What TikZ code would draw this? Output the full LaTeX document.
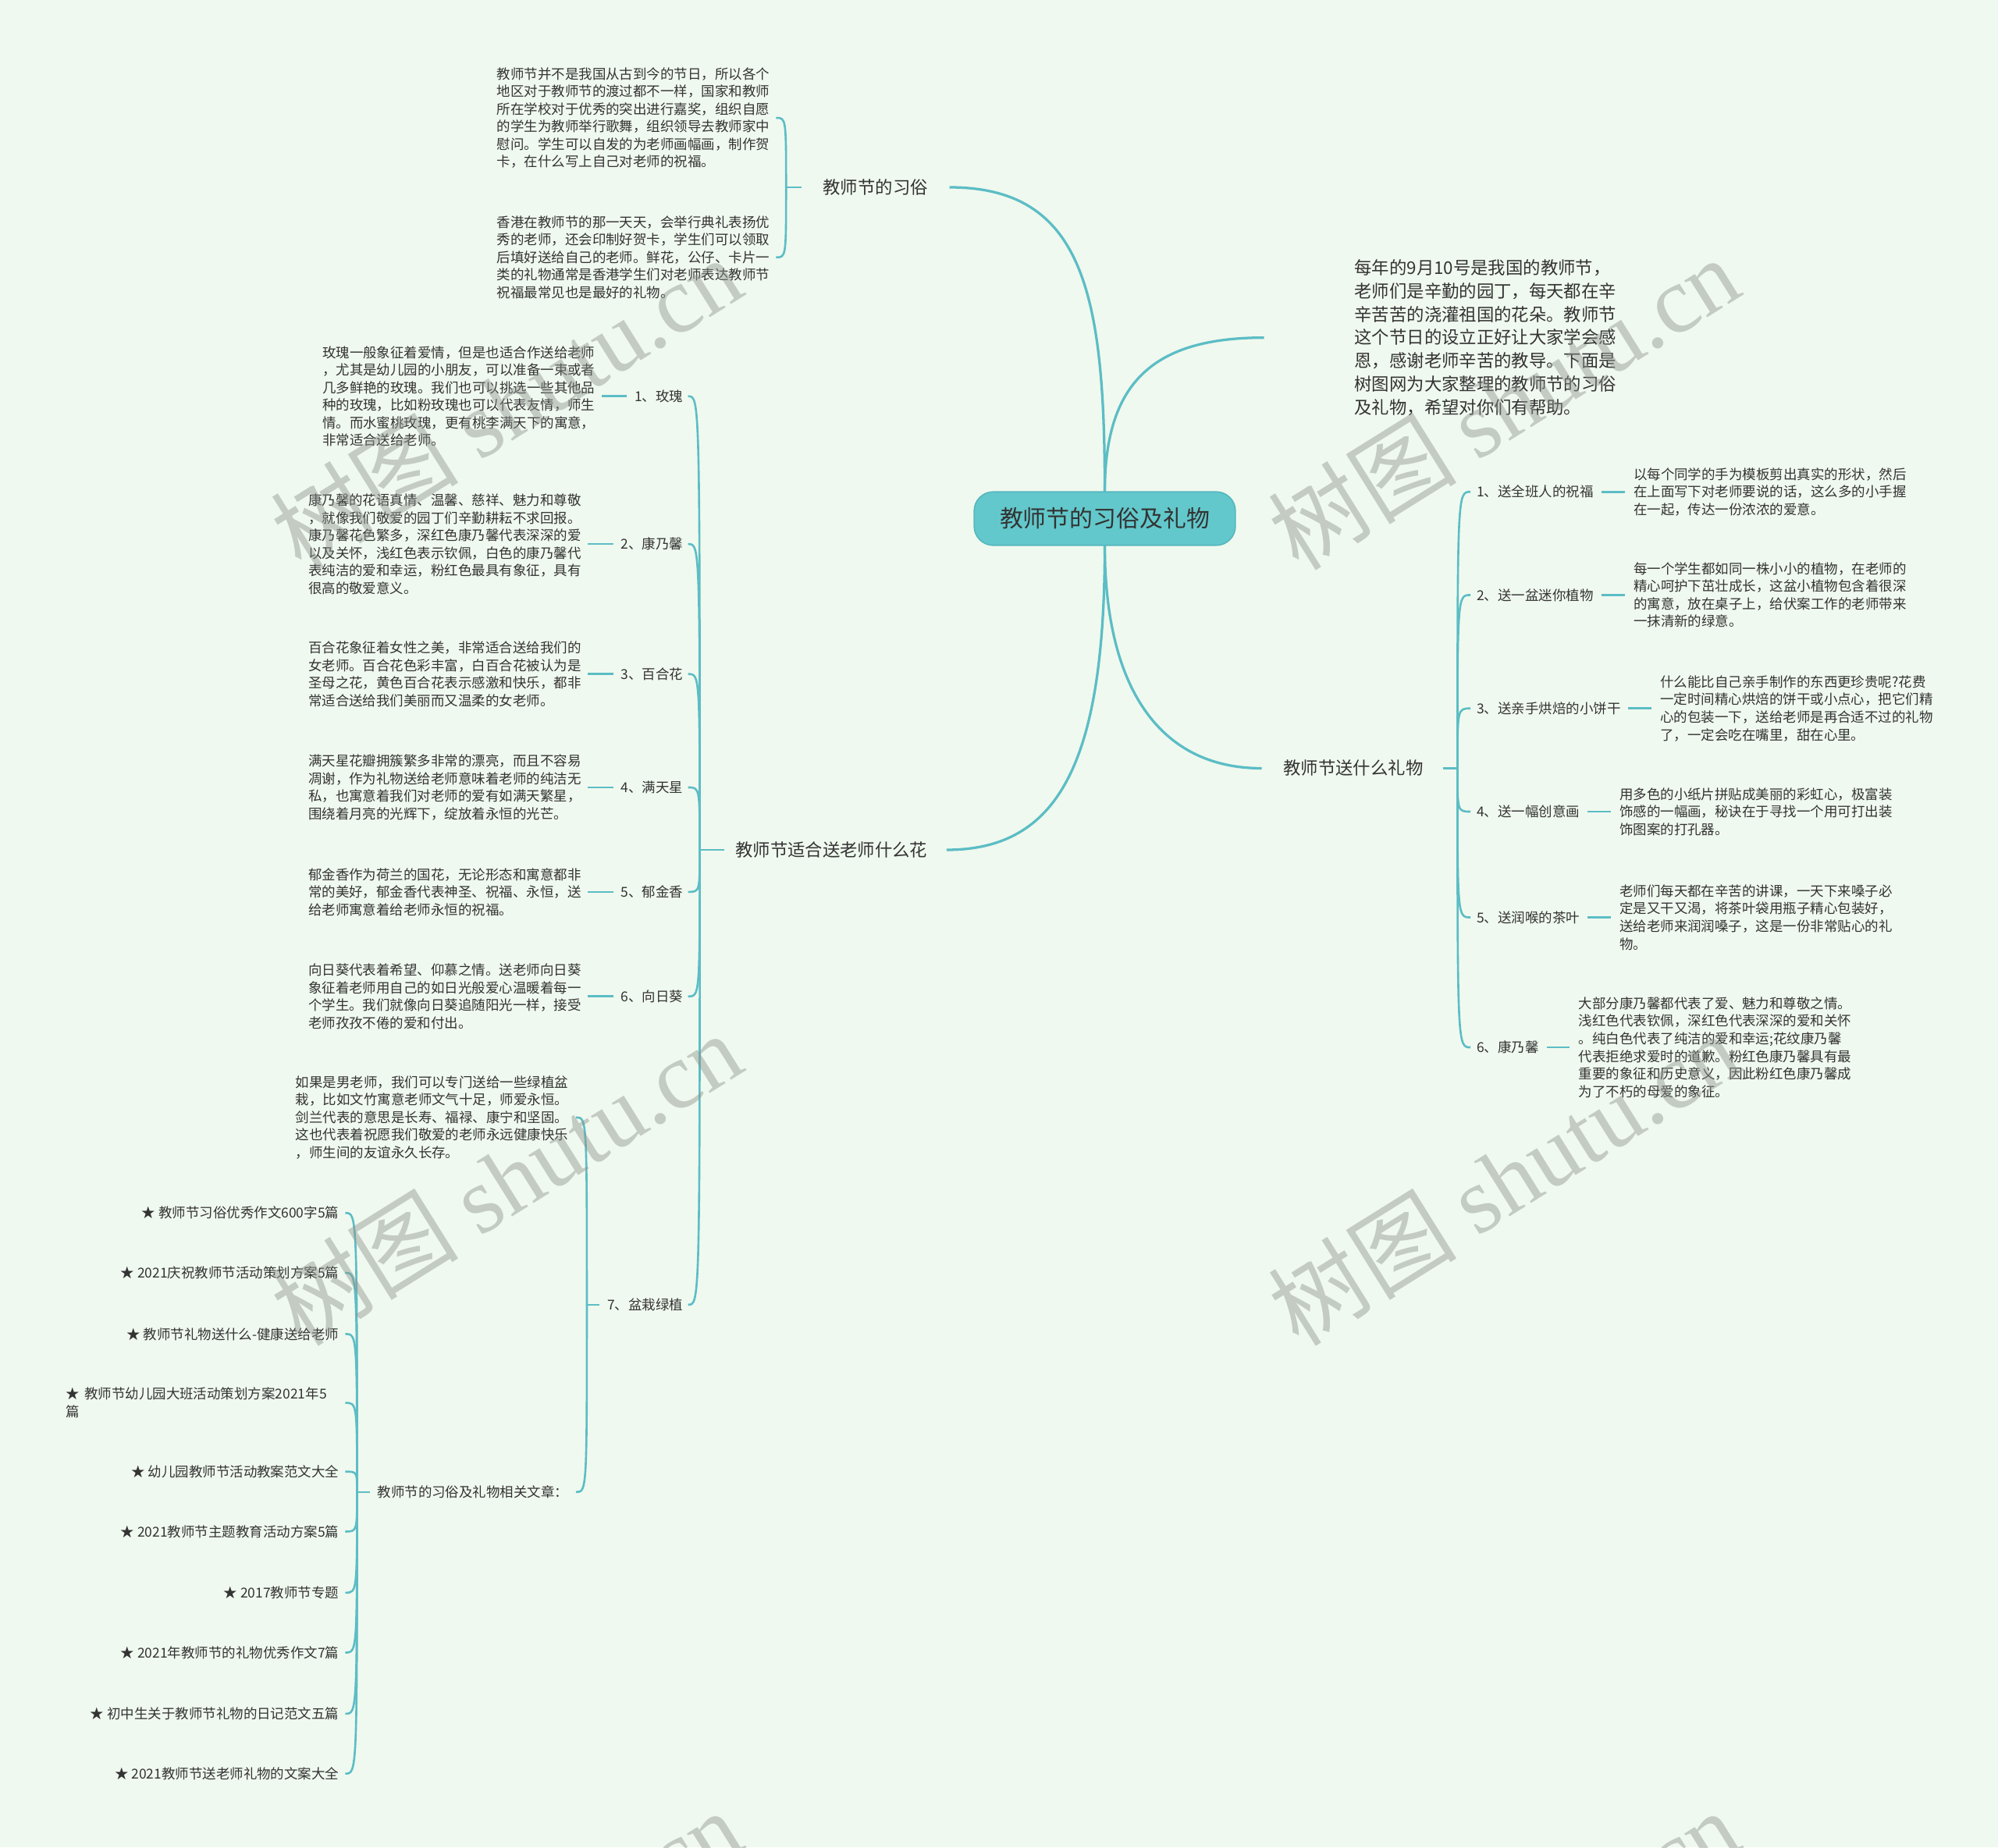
\documentclass[tikz,border=0pt]{standalone}
\usepackage{fontspec}
\setmainfont{Noto Sans CJK SC}
\newfontfamily\wmserif{Liberation Serif}
\definecolor{bg}{HTML}{F0F9EF}
\definecolor{ln}{HTML}{5CBDC5}
\definecolor{ctr}{HTML}{62C8CB}
\definecolor{ctrb}{HTML}{55B8BE}
\definecolor{tx}{HTML}{333333}
\definecolor{wm}{HTML}{8E948E}
\begin{document}
\begin{tikzpicture}[x=1pt,y=-1pt,
  every node/.style={text=tx, inner sep=0pt, outer sep=0pt},
  small/.style={font=\fontsize{10.7}{13.8}\selectfont, align=left},
  lvlone/.style={font=\fontsize{13.7}{18.3}\selectfont, align=left},
  centre/.style={draw=ctrb, fill=ctr, line width=1pt, rounded corners=15pt,
    minimum width=205pt, minimum height=42pt, font=\fontsize{18.3}{22}\selectfont},
  mainline/.style={draw=ln, line width=2pt},
  conn/.style={draw=ln, line width=1.6pt},
  wmark/.style={text=wm, text opacity=0.45, rotate=32, font=\fontsize{74}{76}\selectfont}
]
\fill[bg] (0,0) rectangle (1568,1449.8);
\useasboundingbox (0,0) rectangle (1568,1449.8);

% centre
\node[centre] (c) at (867,407) {教师节的习俗及礼物};

% level one
\node[lvlone] (xs) at (687,147) {教师节的习俗};
\node[lvlone, anchor=west] (intro) at (1063,265) {每年的9月10号是我国的教师节，\\老师们是辛勤的园丁，每天都在辛\\辛苦苦的浇灌祖国的花朵。教师节\\这个节日的设立正好让大家学会感\\恩，感谢老师辛苦的教导。下面是\\树图网为大家整理的教师节的习俗\\及礼物，希望对你们有帮助。};
\node[lvlone] (lw) at (1062,603) {教师节送什么礼物};
\node[lvlone] (hua) at (652.5,667) {教师节适合送老师什么花};

\draw[mainline] (c.north) .. controls (867,230) and (850,147) .. ([xshift=17pt]xs.east);
\draw[mainline] (c.north) .. controls (867,300) and (905,265) .. ([xshift=-71pt]intro.west);
\draw[mainline] (c.south) .. controls (867,540) and (910,603) .. ([xshift=-17pt]lw.west);
\draw[mainline] (c.south) .. controls (867,600) and (830,667) .. ([xshift=15pt]hua.east);

% customs
\node[small, anchor=west] (p1) at (390,92.5) {教师节并不是我国从古到今的节日，所以各个\\地区对于教师节的渡过都不一样，国家和教师\\所在学校对于优秀的突出进行嘉奖，组织自愿\\的学生为教师举行歌舞，组织领导去教师家中\\慰问。学生可以自发的为老师画幅画，制作贺\\卡，在什么写上自己对老师的祝福。};
\node[small, anchor=west] (p2) at (390,202) {香港在教师节的那一天天，会举行典礼表扬优\\秀的老师，还会印制好贺卡，学生们可以领取\\后填好送给自己的老师。鲜花，公仔、卡片一\\类的礼物通常是香港学生们对老师表达教师节\\祝福最常见也是最好的礼物。};
\draw[conn] ([xshift=-17pt]xs.west) -- ++(-12,0) coordinate (xsj);
\foreach \n in {p1,p2}
  \draw[conn] (xsj) .. controls (xsj |- \n) and (xsj |- \n) .. ([xshift=5pt]\n.east);

% gifts
\node[small, anchor=west] (r1) at (1159,386) {1、送全班人的祝福};
\node[small, anchor=west] (r2) at (1159,467) {2、送一盆迷你植物};
\node[small, anchor=west] (r3) at (1159,556) {3、送亲手烘焙的小饼干};
\node[small, anchor=west] (r4) at (1159,637) {4、送一幅创意画};
\node[small, anchor=west] (r5) at (1159,720) {5、送润喉的茶叶};
\node[small, anchor=west] (r6) at (1159,822) {6、康乃馨};
\node[small, anchor=west] (rd1) at (1282,386) {以每个同学的手为模板剪出真实的形状，然后\\在上面写下对老师要说的话，这么多的小手握\\在一起，传达一份浓浓的爱意。};
\node[small, anchor=west] (rd2) at (1282,467) {每一个学生都如同一株小小的植物，在老师的\\精心呵护下茁壮成长，这盆小植物包含着很深\\的寓意，放在桌子上，给伏案工作的老师带来\\一抹清新的绿意。};
\node[small, anchor=west] (rd3) at (1303,556) {什么能比自己亲手制作的东西更珍贵呢?花费\\一定时间精心烘焙的饼干或小点心，把它们精\\心的包装一下，送给老师是再合适不过的礼物\\了，一定会吃在嘴里，甜在心里。};
\node[small, anchor=west] (rd4) at (1271,637) {用多色的小纸片拼贴成美丽的彩虹心，极富装\\饰感的一幅画，秘诀在于寻找一个用可打出装\\饰图案的打孔器。};
\node[small, anchor=west] (rd5) at (1271,720) {老师们每天都在辛苦的讲课，一天下来嗓子必\\定是又干又渴，将茶叶袋用瓶子精心包装好，\\送给老师来润润嗓子，这是一份非常贴心的礼\\物。};
\node[small, anchor=west] (rd6) at (1239,822) {大部分康乃馨都代表了爱、魅力和尊敬之情。\\浅红色代表钦佩，深红色代表深深的爱和关怀\\。纯白色代表了纯洁的爱和幸运;花纹康乃馨\\代表拒绝求爱时的道歉。粉红色康乃馨具有最\\重要的象征和历史意义，因此粉红色康乃馨成\\为了不朽的母爱的象征。};
\draw[conn] ([xshift=16pt]lw.east) -- ++(11,0) coordinate (lwj);
\foreach \n in {r1,r2,r3,r4,r5,r6}
  \draw[conn] (lwj) .. controls (lwj |- \n) and (lwj |- \n) .. ([xshift=-5pt]\n.west);
\foreach \n in {1,...,6}
  \draw[conn, shorten <=6pt, shorten >=7pt] (r\n.east) -- (rd\n.west);

% flowers
\node[small, anchor=east] (f1) at (536,311) {1、玫瑰};
\node[small, anchor=east] (f2) at (536,427) {2、康乃馨};
\node[small, anchor=east] (f3) at (536,529) {3、百合花};
\node[small, anchor=east] (f4) at (536,618) {4、满天星};
\node[small, anchor=east] (f5) at (536,700) {5、郁金香};
\node[small, anchor=east] (f6) at (536,782) {6、向日葵};
\node[small, anchor=east] (f7) at (536,1024) {7、盆栽绿植};
\node[small, anchor=west] (fd1) at (253,311) {玫瑰一般象征着爱情，但是也适合作送给老师\\，尤其是幼儿园的小朋友，可以准备一束或者\\几多鲜艳的玫瑰。我们也可以挑选一些其他品\\种的玫瑰，比如粉玫瑰也可以代表友情，师生\\情。而水蜜桃玫瑰，更有桃李满天下的寓意，\\非常适合送给老师。};
\node[small, anchor=west] (fd2) at (242,427) {康乃馨的花语真情、温馨、慈祥、魅力和尊敬\\，就像我们敬爱的园丁们辛勤耕耘不求回报。\\康乃馨花色繁多，深红色康乃馨代表深深的爱\\以及关怀，浅红色表示钦佩，白色的康乃馨代\\表纯洁的爱和幸运，粉红色最具有象征，具有\\很高的敬爱意义。};
\node[small, anchor=west] (fd3) at (242,529) {百合花象征着女性之美，非常适合送给我们的\\女老师。百合花色彩丰富，白百合花被认为是\\圣母之花，黄色百合花表示感激和快乐，都非\\常适合送给我们美丽而又温柔的女老师。};
\node[small, anchor=west] (fd4) at (242,618) {满天星花瓣拥簇繁多非常的漂亮，而且不容易\\凋谢，作为礼物送给老师意味着老师的纯洁无\\私，也寓意着我们对老师的爱有如满天繁星，\\围绕着月亮的光辉下，绽放着永恒的光芒。};
\node[small, anchor=west] (fd5) at (242,700) {郁金香作为荷兰的国花，无论形态和寓意都非\\常的美好，郁金香代表神圣、祝福、永恒，送\\给老师寓意着给老师永恒的祝福。};
\node[small, anchor=west] (fd6) at (242,782) {向日葵代表着希望、仰慕之情。送老师向日葵\\象征着老师用自己的如日光般爱心温暖着每一\\个学生。我们就像向日葵追随阳光一样，接受\\老师孜孜不倦的爱和付出。};
\draw[conn] ([xshift=-9pt]hua.west) -- ++(-19,0) coordinate (huaj);
\foreach \n in {f1,f2,f3,f4,f5,f6,f7}
  \draw[conn] (huaj) .. controls (huaj |- \n) and (huaj |- \n) .. ([xshift=4pt]\n.east);
\foreach \n in {1,...,6}
  \draw[conn, shorten <=6pt, shorten >=5pt] (f\n.west) -- (fd\n.east);

% potted plants
\node[small, anchor=east] (fa) at (446,877) {如果是男老师，我们可以专门送给一些绿植盆\\栽，比如文竹寓意老师文气十足，师爱永恒。\\剑兰代表的意思是长寿、福禄、康宁和坚固。\\这也代表着祝愿我们敬爱的老师永远健康快乐\\，师生间的友谊永久长存。};
\node[small, anchor=east] (fb) at (446,1171) {教师节的习俗及礼物相关文章：};
\draw[conn] ([xshift=-6pt]f7.west) -- ++(-10,0) coordinate (f7j);
\foreach \n in {fa,fb}
  \draw[conn] (f7j) .. controls (f7j |- \n) and (f7j |- \n) .. ([xshift=6pt]\n.east);

% related articles
\node[small, anchor=east] (s1) at (266,952) {★ 教师节习俗优秀作文600字5篇};
\node[small, anchor=east] (s2) at (266,999) {★ 2021庆祝教师节活动策划方案5篇};
\node[small, anchor=east] (s3) at (266,1047) {★ 教师节礼物送什么-健康送给老师};
\node[small, anchor=west, text width=214pt] (s4) at (52,1101) {★ 教师节幼儿园大班活动策划方案2021年5\\篇};
\node[small, anchor=east] (s5) at (266,1155) {★ 幼儿园教师节活动教案范文大全};
\node[small, anchor=east] (s6) at (266,1202) {★ 2021教师节主题教育活动方案5篇};
\node[small, anchor=east] (s7) at (266,1250) {★ 2017教师节专题};
\node[small, anchor=east] (s8) at (266,1297) {★ 2021年教师节的礼物优秀作文7篇};
\node[small, anchor=east] (s9) at (266,1345) {★ 初中生关于教师节礼物的日记范文五篇};
\node[small, anchor=east] (s10) at (266,1392) {★ 2021教师节送老师礼物的文案大全};
\draw[conn] ([xshift=-6pt]fb.west) -- ++(-10,0) coordinate (fbj);
\foreach \n in {s1,s2,s3,s4,s5,s6,s7,s8,s9,s10}
  \draw[conn] (fbj) .. controls (fbj |- \n) and (fbj |- \n) .. ([xshift=5pt]\n.east);

% watermarks
\node[wmark] (w1) at (397,316) {树图 {\wmserif shutu.cn}};
\node[wmark] (w2) at (1180,316) {树图 {\wmserif shutu.cn}};
\node[wmark] (w3) at (397,925) {树图 {\wmserif shutu.cn}};
\node[wmark] (w4) at (1180,925) {树图 {\wmserif shutu.cn}};
\node[wmark] (w5) at (397,1535) {树图 {\wmserif shutu.cn}};
\node[wmark] (w6) at (1180,1535) {树图 {\wmserif shutu.cn}};
\end{tikzpicture}
\end{document}
